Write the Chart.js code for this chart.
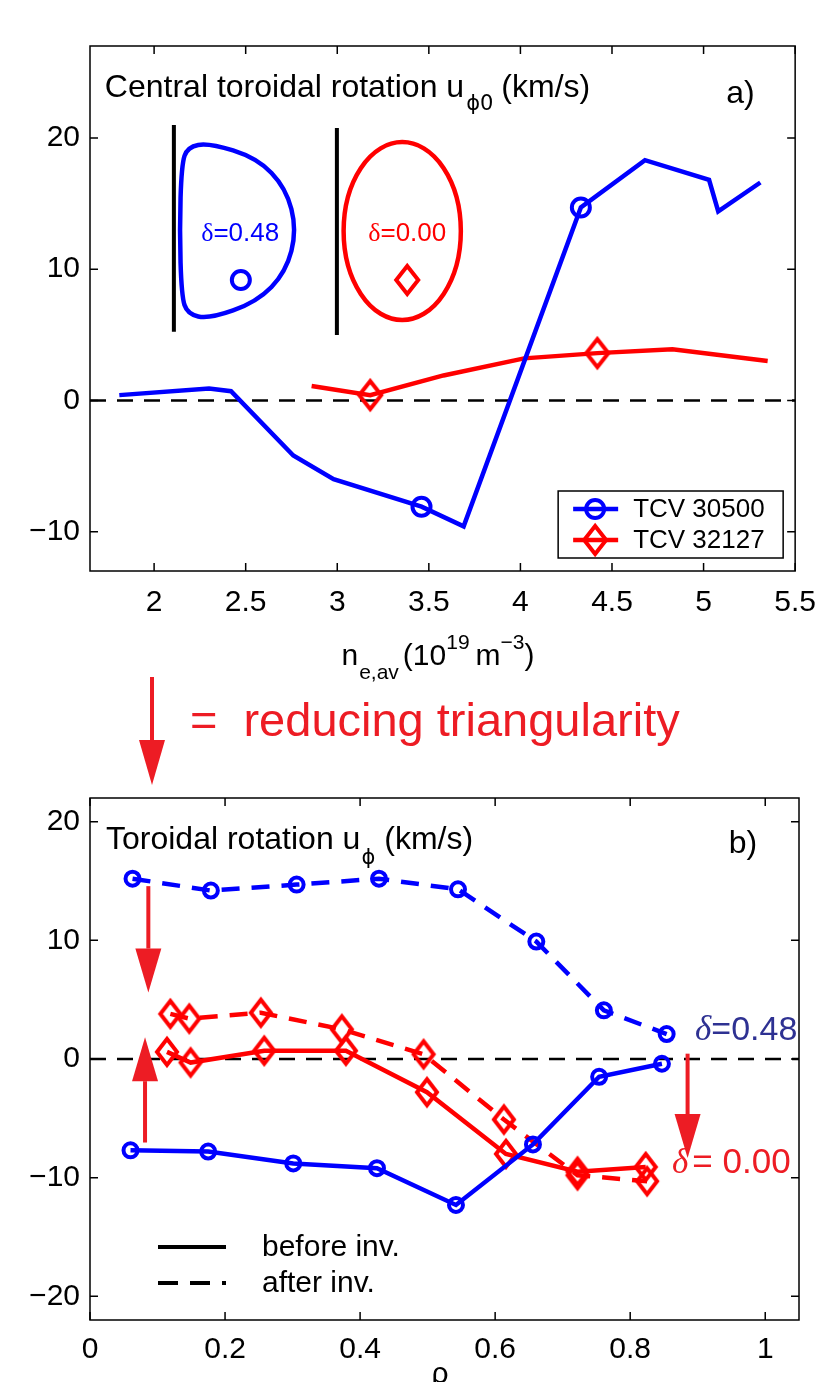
<!DOCTYPE html>
<html>
<head>
<meta charset="utf-8">
<title>Toroidal rotation and triangularity</title>
<script src="https://cdn.jsdelivr.net/npm/chart.js@4.4.1/dist/chart.umd.min.js"></script>
<style>
  html, body { margin: 0; padding: 0; background: #fff; }
  #page { position: relative; width: 830px; height: 1382px; overflow: hidden; }
  #chartA { position: absolute; left: 0; top: 0; }
  #chartB { position: absolute; left: 0; top: 770px; }
</style>
</head>
<body>
<div id="page">
  <canvas id="chartA" width="830" height="800"></canvas>
  <canvas id="chartB" width="830" height="612"></canvas>
</div>
<script>
// ---- panel a) : central toroidal rotation vs line averaged density
const neBlue = [1.81, 2.30, 2.42, 2.76, 2.98, 3.46, 3.69, 4.33, 4.68, 5.03, 5.08, 5.31];
const uBlue  = [0.4, 0.9, 0.7, -4.2, -6.0, -8.1, -9.6, 14.7, 18.3, 16.8, 14.4, 16.6];
const neRed  = [2.86, 3.18, 3.58, 4.02, 4.42, 4.83, 5.35];
const uRed   = [1.1, 0.4, 1.9, 3.2, 3.6, 3.9, 3.0];
const shotLabels = ['TCV 30500', 'TCV 32127'];
const aXTicks = [2, 2.5, 3, 3.5, 4, 4.5, 5, 5.5];
const aYTicks = [-10, 0, 10, 20];

// ---- panel b) : rotation profiles before / after the inversion
const rhoBlueBefore = [0.060, 0.175, 0.301, 0.425, 0.542, 0.656, 0.754, 0.847];
const uBlueBefore   = [-7.7, -7.8, -8.8, -9.2, -12.3, -7.2, -1.5, -0.4];
const rhoBlueAfter  = [0.063, 0.179, 0.306, 0.428, 0.545, 0.661, 0.761, 0.854];
const uBlueAfter    = [15.2, 14.2, 14.7, 15.2, 14.3, 9.9, 4.1, 2.1];
const rhoRedBefore  = [0.114, 0.149, 0.258, 0.379, 0.499, 0.616, 0.722, 0.823];
const uRedBefore    = [0.6, -0.3, 0.7, 0.7, -2.8, -8.0, -9.5, -9.1];
const rhoRedAfter   = [0.119, 0.147, 0.253, 0.373, 0.494, 0.613, 0.722, 0.825];
const uRedAfter     = [3.8, 3.4, 3.9, 2.5, 0.4, -5.1, -9.8, -10.3];
const bXTicks = [0, 0.2, 0.4, 0.6, 0.8, 1];
const bYTicks = [-20, -10, 0, 10, 20];

// styling
const SANS = '"Liberation Sans", Arial, Helvetica, sans-serif';
const SERIF = '"Liberation Serif", "DejaVu Serif", serif';
const PHI_FONT = '"DejaVu Sans", sans-serif';
const BLUE = '#0000ff';
const RED = '#ff0000';
const ARROW_RED = '#ed1c24';
const DARK_BLUE = '#2e3192';
const LW = 4.5;
const blueMarks = [5, 7];   // points of panel a) that carry a marker
const redMarks = [1, 4];

Chart.defaults.font.family = SANS;
Chart.defaults.color = '#000';

function pts(xs, ys) {
    return xs.map((x, i) => ({ x: x, y: ys[i] }));
}

function fmtTick(v) {
    return v < 0 ? '\u2212' + (-v) : String(v);
}

// matlab style diamond marker, a bit taller than wide
function diamondImg(hw, hh, color) {
    const c = document.createElement('canvas');
    c.width = Math.ceil(2 * hw + 8);
    c.height = Math.ceil(2 * hh + 8);
    const g = c.getContext('2d');
    g.strokeStyle = color;
    g.lineWidth = 4;
    diamond(g, c.width / 2, c.height / 2, hw, hh);
    return c;
}

function richText(ctx, x, y, parts, align) {
    let w = 0;
    parts.forEach(p => {
        ctx.font = p.font;
        p.w = ctx.measureText(p.t).width;
        w += p.w + (p.gap || 0);
    });
    let cx = align === 'center' ? x - w / 2 : x;
    ctx.textAlign = 'left';
    ctx.textBaseline = 'alphabetic';
    parts.forEach(p => {
        ctx.font = p.font;
        ctx.fillStyle = p.color || '#000';
        ctx.fillText(p.t, cx, y + (p.dy || 0));
        cx += p.w + (p.gap || 0);
    });
}

function vArrow(ctx, x, yStart, yTip, headLen, headW, color) {
    const dir = yTip > yStart ? 1 : -1;
    ctx.save();
    ctx.strokeStyle = color;
    ctx.fillStyle = color;
    ctx.lineWidth = 4;
    ctx.beginPath();
    ctx.moveTo(x, yStart);
    ctx.lineTo(x, yTip - dir * headLen);
    ctx.stroke();
    ctx.beginPath();
    ctx.moveTo(x, yTip);
    ctx.lineTo(x - headW / 2, yTip - dir * headLen);
    ctx.lineTo(x + headW / 2, yTip - dir * headLen);
    ctx.closePath();
    ctx.fill();
    ctx.restore();
}

function frameAndTicks(chart) {
    const { ctx, chartArea: a, scales } = chart;
    const len = 8;
    ctx.save();
    ctx.strokeStyle = '#000';
    ctx.lineWidth = 1.5;
    ctx.beginPath();
    scales.x.ticks.forEach(t => {
        const p = scales.x.getPixelForValue(t.value);
        ctx.moveTo(p, a.bottom); ctx.lineTo(p, a.bottom - len);
        ctx.moveTo(p, a.top); ctx.lineTo(p, a.top + len);
    });
    scales.y.ticks.forEach(t => {
        const p = scales.y.getPixelForValue(t.value);
        ctx.moveTo(a.left, p); ctx.lineTo(a.left + len, p);
        ctx.moveTo(a.right, p); ctx.lineTo(a.right - len, p);
    });
    ctx.stroke();
    ctx.strokeRect(a.left, a.top, a.right - a.left, a.bottom - a.top);
    ctx.restore();
}

function zeroLine(chart) {
    const { ctx, chartArea: a, scales } = chart;
    const y0 = scales.y.getPixelForValue(0);
    ctx.save();
    ctx.strokeStyle = '#000';
    ctx.lineWidth = 2.5;
    ctx.setLineDash([16, 11]);
    ctx.beginPath();
    ctx.moveTo(a.left, y0);
    ctx.lineTo(a.right, y0);
    ctx.stroke();
    ctx.restore();
}

function diamond(ctx, x, y, hw, hh) {
    ctx.beginPath();
    ctx.moveTo(x, y - hh);
    ctx.lineTo(x + hw, y);
    ctx.lineTo(x, y + hh);
    ctx.lineTo(x - hw, y);
    ctx.closePath();
    ctx.stroke();
}

const redDiamondA = diamondImg(11, 14, RED);
const redDiamondB = diamondImg(10, 13, RED);

// plasma cross sections, labels and legend of panel a)
const panelA = {
    id: 'panelA',
    beforeDatasetsDraw(chart) {
        zeroLine(chart);
    },
    afterDatasetsDraw(chart) {
        const { ctx, chartArea: a, scales: { x: sx, y: sy } } = chart;
        const P = (x, y) => [sx.getPixelForValue(x), sy.getPixelForValue(y)];
        ctx.save();
        ctx.lineCap = 'butt';

        // vessel walls
        ctx.strokeStyle = '#000';
        ctx.lineWidth = 4;
        [[2.108, 20.98, 5.23], [2.998, 20.75, 4.98]].forEach(w => {
            const p0 = P(w[0], w[1]), p1 = P(w[0], w[2]);
            ctx.beginPath(); ctx.moveTo(p0[0], p0[1]); ctx.lineTo(p1[0], p1[1]); ctx.stroke();
        });

        // D shaped plasma (positive triangularity)
        const dShape = [[2.30, 19.61], [2.562, 18.47], [2.72, 16.18], [2.779, 12.98], [2.72, 9.78],
            [2.562, 7.50], [2.30, 6.20], [2.182, 6.58], [2.15, 7.95], [2.139, 12.98], [2.15, 17.94], [2.182, 19.31]]
            .map(q => P(q[0], q[1]));
        ctx.strokeStyle = BLUE;
        ctx.lineWidth = LW;
        ctx.beginPath();
        const n = dShape.length;
        const mid = (i, j) => [(dShape[i][0] + dShape[j][0]) / 2, (dShape[i][1] + dShape[j][1]) / 2];
        let m = mid(n - 1, 0);
        ctx.moveTo(m[0], m[1]);
        for (let i = 0; i < n; i++) {
            const nm = mid(i, (i + 1) % n);
            ctx.quadraticCurveTo(dShape[i][0], dShape[i][1], nm[0], nm[1]);
        }
        ctx.closePath();
        ctx.stroke();

        // elliptic plasma (zero triangularity)
        const c = P(3.3547, 12.9);
        const rx = sx.getPixelForValue(3.3547 + 0.32) - c[0];
        const ry = c[1] - sy.getPixelForValue(12.9 + 6.78);
        ctx.strokeStyle = RED;
        ctx.beginPath();
        ctx.ellipse(c[0], c[1], rx, ry, 0, 0, Math.PI * 2);
        ctx.stroke();

        // markers inside the shapes
        ctx.lineWidth = 4;
        const cm = P(2.4736, 9.17);
        ctx.strokeStyle = BLUE;
        ctx.beginPath(); ctx.arc(cm[0], cm[1], 9, 0, Math.PI * 2); ctx.stroke();
        const dm = P(3.382, 9.17);
        ctx.strokeStyle = RED;
        diamond(ctx, dm[0], dm[1], 11, 14);

        // delta labels
        const t1 = P(2.47, 12.83), t2 = P(3.382, 12.83);
        richText(ctx, t1[0], t1[1] + 9, [
            { t: '\u03b4', font: '26px ' + SERIF, color: BLUE },
            { t: '=0.48', font: '26px ' + SANS, color: BLUE }], 'center');
        richText(ctx, t2[0], t2[1] + 9, [
            { t: '\u03b4', font: '26px ' + SERIF, color: RED },
            { t: '=0.00', font: '26px ' + SANS, color: RED }], 'center');

        // panel title and tag
        const tt = P(1.731, 23.1);
        richText(ctx, tt[0], tt[1], [
            { t: 'Central toroidal rotation u', font: '32px ' + SANS, gap: 2 },
            { t: '\u03d50', font: '21px ' + PHI_FONT, dy: 13, gap: 8 },
            { t: '(km/s)', font: '32px ' + SANS }]);
        const tg = P(5.124, 22.66);
        richText(ctx, tg[0], tg[1], [{ t: 'a)', font: '32px ' + SANS }]);

        // legend box
        const bx = a.right - 12 - 225, by = a.bottom - 13 - 67;
        ctx.fillStyle = '#fff';
        ctx.fillRect(bx, by, 225, 67);
        ctx.strokeStyle = '#000';
        ctx.lineWidth = 1.5;
        ctx.strokeRect(bx, by, 225, 67);
        [[BLUE, 'circle', by + 18], [RED, 'diamond', by + 49]].forEach((row, i) => {
            ctx.strokeStyle = row[0];
            ctx.lineWidth = LW;
            ctx.beginPath(); ctx.moveTo(bx + 15, row[2]); ctx.lineTo(bx + 60, row[2]); ctx.stroke();
            ctx.lineWidth = 4;
            if (row[1] === 'circle') {
                ctx.beginPath(); ctx.arc(bx + 37, row[2], 9, 0, Math.PI * 2); ctx.stroke();
            } else {
                diamond(ctx, bx + 37, row[2], 11, 14);
            }
            ctx.fillStyle = '#000';
            ctx.font = '26px ' + SANS;
            ctx.textAlign = 'left';
            ctx.textBaseline = 'middle';
            ctx.fillText(shotLabels[i], bx + 75, row[2] + 1);
        });
        ctx.restore();
    },
    afterDraw(chart) {
        const { ctx, chartArea: a } = chart;
        frameAndTicks(chart);
        ctx.save();
        // x axis label
        richText(ctx, 438, a.bottom + 94, [
            { t: 'n', font: '30px ' + SANS, gap: 1 },
            { t: 'e,av', font: '21px ' + SANS, dy: 14, gap: 4 },
            { t: '(10', font: '30px ' + SANS },
            { t: '19', font: '21px ' + SANS, dy: -16, gap: 6 },
            { t: 'm', font: '30px ' + SANS },
            { t: '\u22123', font: '21px ' + SANS, dy: -16 },
            { t: ')', font: '30px ' + SANS }], 'center');
        // arrow legend between the panels
        vArrow(ctx, 152, 677, 785, 45, 26, ARROW_RED);
        richText(ctx, 190, 736, [
            { t: '=', font: '47px ' + SANS, color: ARROW_RED, gap: 26 },
            { t: 'reducing triangularity', font: '47px ' + SANS, color: ARROW_RED }]);
        ctx.restore();
    }
};

// arrows, tags and line style legend of panel b)
const panelB = {
    id: 'panelB',
    beforeDatasetsDraw(chart) {
        zeroLine(chart);
    },
    afterDatasetsDraw(chart) {
        const { ctx, chartArea: a, scales: { x: sx, y: sy } } = chart;
        const X = v => sx.getPixelForValue(v);
        const Y = v => sy.getPixelForValue(v);
        ctx.save();

        vArrow(ctx, X(0.0864), Y(14.57), Y(5.6), 44, 26, ARROW_RED);
        vArrow(ctx, X(0.0815), Y(-7.04), Y(1.84), 44, 26, ARROW_RED);
        vArrow(ctx, X(0.885), Y(0.45), Y(-8.35), 44, 26, ARROW_RED);

        richText(ctx, X(0.896), Y(1.59), [
            { t: '\u03b4', font: 'italic 35px ' + SERIF, color: DARK_BLUE },
            { t: '=0.48', font: '34px ' + SANS, color: DARK_BLUE }]);
        richText(ctx, X(0.862), Y(-9.6), [
            { t: '\u03b4', font: 'italic 35px ' + SERIF, color: ARROW_RED, gap: 4 },
            { t: '= 0.00', font: '35px ' + SANS, color: ARROW_RED }]);

        richText(ctx, a.left + 16, a.top + 51, [
            { t: 'Toroidal rotation u', font: '32px ' + SANS, gap: 1 },
            { t: '\u03d5', font: '21px ' + PHI_FONT, dy: 15, gap: 9 },
            { t: '(km/s)', font: '32px ' + SANS }]);
        richText(ctx, X(0.946), a.top + 55, [{ t: 'b)', font: '32px ' + SANS }]);

        ctx.strokeStyle = '#000';
        ctx.lineWidth = 4;
        ctx.beginPath(); ctx.moveTo(a.left + 68, a.bottom - 73); ctx.lineTo(a.left + 136, a.bottom - 73); ctx.stroke();
        ctx.setLineDash([20, 12]);
        ctx.beginPath(); ctx.moveTo(a.left + 68, a.bottom - 37); ctx.lineTo(a.left + 136, a.bottom - 37); ctx.stroke();
        ctx.setLineDash([]);
        ctx.fillStyle = '#000';
        ctx.font = '30px ' + SANS;
        ctx.textAlign = 'left';
        ctx.textBaseline = 'middle';
        ctx.fillText('before inv.', a.left + 172, a.bottom - 72);
        ctx.fillText('after inv.', a.left + 172, a.bottom - 36);
        ctx.restore();
    },
    afterDraw(chart) {
        const { ctx, chartArea: a } = chart;
        frameAndTicks(chart);
        ctx.save();
        ctx.font = '30px ' + SANS;
        ctx.textAlign = 'center';
        ctx.textBaseline = 'alphabetic';
        ctx.fillStyle = '#000';
        ctx.fillText('\u03c1', 440, a.bottom + 63);
        ctx.restore();
    }
};

function axisCfg(min, max, tickVals, fitFn, pad) {
    return {
        type: 'linear',
        min: min,
        max: max,
        afterBuildTicks: s => { s.ticks = tickVals.map(v => ({ value: v })); },
        afterFit: fitFn,
        grid: { display: false, drawTicks: false },
        border: { display: false },
        ticks: {
            padding: pad,
            color: '#000',
            autoSkip: false,
            maxRotation: 0,
            font: { size: 30, family: SANS },
            callback: v => fmtTick(v)
        }
    };
}

function lineSet(data, color, dashed, style, radius) {
    return {
        data: data,
        showLine: true,
        borderColor: color,
        borderWidth: LW,
        borderDash: dashed ? [18, 12] : [],
        tension: 0,
        pointStyle: style,
        pointRadius: radius,
        pointBorderWidth: 4,
        pointBorderColor: color,
        pointBackgroundColor: 'rgba(0,0,0,0)',
        clip: false
    };
}

const commonOpts = {
    responsive: false,
    animation: false,
    events: [],
    plugins: { legend: { display: false }, tooltip: { enabled: false } }
};

new Chart(document.getElementById('chartA'), {
    type: 'scatter',
    data: {
        datasets: [
            lineSet(pts(neBlue, uBlue), BLUE, false, 'circle', c => blueMarks.includes(c.dataIndex) ? 9 : 0),
            lineSet(pts(neRed, uRed), RED, false, redDiamondA, c => redMarks.includes(c.dataIndex) ? 12 : 0)
        ]
    },
    options: Object.assign({}, commonOpts, {
        layout: { autoPadding: false, padding: { top: 46, right: 31, left: 0, bottom: 0 } },
        scales: {
            x: axisCfg(1.65, 5.5, aXTicks, s => { s.height = 229; }, 14),
            y: axisCfg(-13, 27, aYTicks, s => { s.width = 90; }, 10)
        }
    }),
    plugins: [panelA]
});

new Chart(document.getElementById('chartB'), {
    type: 'scatter',
    data: {
        datasets: [
            lineSet(pts(rhoBlueBefore, uBlueBefore), BLUE, false, 'circle', 7),
            lineSet(pts(rhoBlueAfter, uBlueAfter), BLUE, true, 'circle', 7),
            lineSet(pts(rhoRedBefore, uRedBefore), RED, false, redDiamondB, 11),
            lineSet(pts(rhoRedAfter, uRedAfter), RED, true, redDiamondB, 11)
        ]
    },
    options: Object.assign({}, commonOpts, {
        layout: { autoPadding: false, padding: { top: 24, right: 31, left: 0, bottom: 0 } },
        scales: {
            x: axisCfg(0, 1.05, bXTicks, s => { s.height = 62; }, 12),
            y: axisCfg(-22, 22, bYTicks, s => { s.width = 90; }, 10)
        }
    }),
    plugins: [panelB]
});
</script>
</body>
</html>
